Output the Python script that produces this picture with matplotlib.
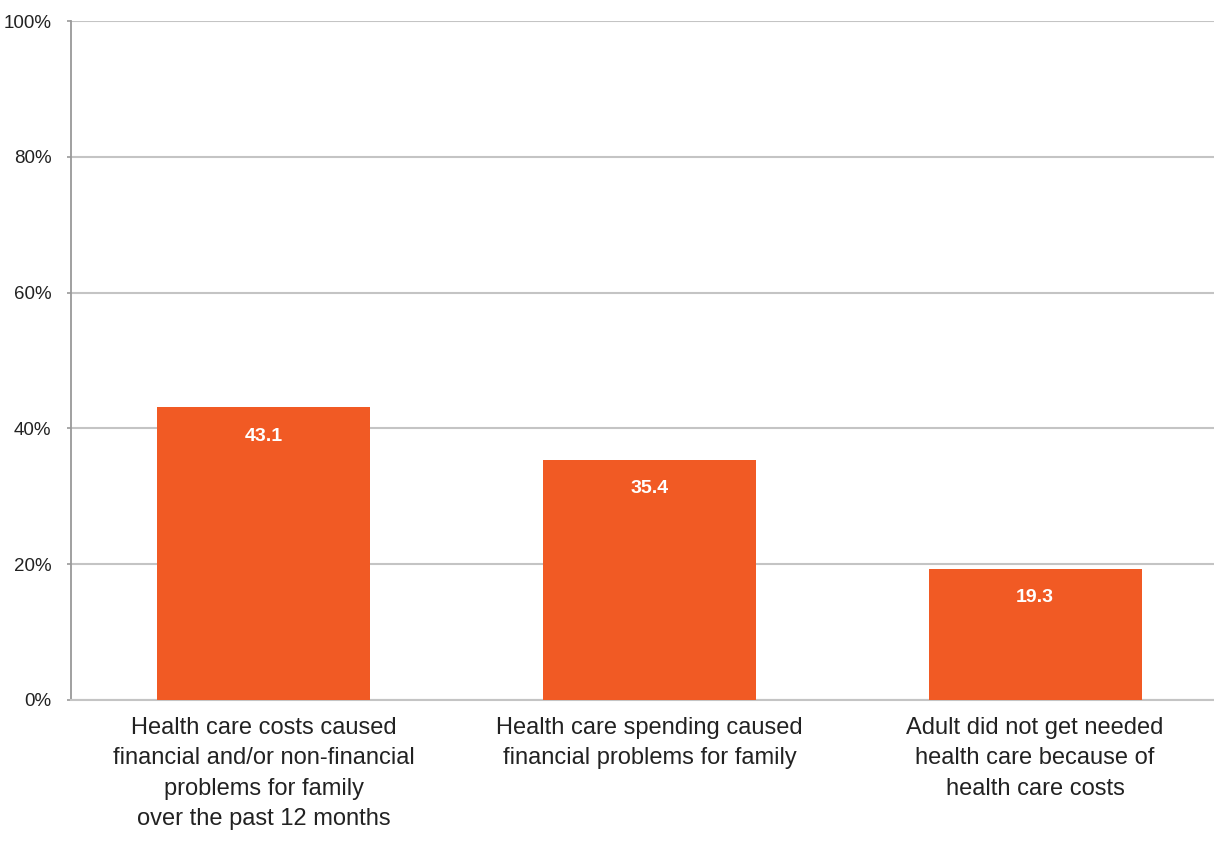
import matplotlib
matplotlib.use("Agg")
import matplotlib.pyplot as plt

categories = [
    "Health care costs caused\nfinancial and/or non-financial\nproblems for family\nover the past 12 months",
    "Health care spending caused\nfinancial problems for family",
    "Adult did not get needed\nhealth care because of\nhealth care costs",
]
values = [43.1, 35.4, 19.3]
yticks = [0, 20, 40, 60, 80, 100]
ytick_labels = ["0%", "20%", "40%", "60%", "80%", "100%"]

plt.rcParams['font.family'] = ['Liberation Sans', 'DejaVu Sans']

W, H = 1214, 841
fig = plt.figure(figsize=(W / 100, H / 100), dpi=100)
ax = fig.add_axes([71 / W, 141 / H, (1228 - 71) / W, 679 / H])

x = list(range(len(categories)))
ax.bar(x, values, width=0.553, color="#F15A24", zorder=3)
for xi, v in zip(x, values):
    ax.text(xi, v - 3.0, f"{v:.1f}", ha="center", va="top", color="white",
            fontsize=14, fontweight="bold", zorder=4)

ax.set_xlim(-0.5, 2.5)
ax.set_ylim(0, 100)
ax.set_yticks(yticks)
ax.set_yticklabels(ytick_labels, fontsize=13.5, color="#222222")
ax.set_xticks(x)
ax.set_xticklabels(categories, fontsize=17, color="#222222", linespacing=1.5)
ax.tick_params(axis="x", length=0, pad=12)
ax.tick_params(axis="y", length=3, width=1.2, color="#999999", pad=11)
ax.yaxis.grid(True, color="#c4c4c4", linewidth=1.5, zorder=0)
ax.set_axisbelow(True)
for s in ["top", "right"]:
    ax.spines[s].set_visible(False)
ax.spines["left"].set_color("#999999")
ax.spines["left"].set_linewidth(1.3)
ax.spines["bottom"].set_color("#c4c4c4")
ax.spines["bottom"].set_linewidth(1.5)

fig.savefig("out.png", dpi=100)
